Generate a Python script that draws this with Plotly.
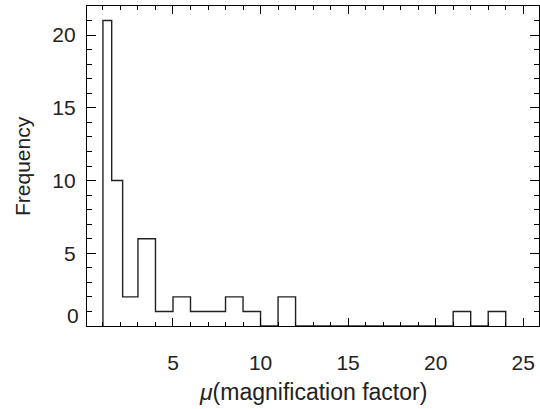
import plotly.graph_objects as go

# Histogram bin edges (x) and counts
bin_edges = [1.0, 1.5, 2.125, 3, 4, 5, 6, 7, 8, 9, 10, 11, 12, 13, 14, 15, 16,
             17, 18, 19, 20, 21, 22, 23, 24]
counts = [21, 10, 2, 6, 1, 2, 1, 1, 2, 1, 0, 2,
          0, 0, 0, 0, 0, 0, 0, 0, 0,
          1, 0, 1]
x_ticks = [5, 10, 15, 20, 25]
y_ticks = [0, 5, 10, 15, 20]
x_title = "<i>μ</i>(magnification factor)"
y_title = "Frequency"

# step outline: start at 0, rise to first count, step through, drop to 0
xs = [bin_edges[0]] + bin_edges
ys = [0] + counts + [0]

FONT = "Liberation Sans, Arial, Helvetica, sans-serif"

fig = go.Figure()
fig.add_trace(go.Scatter(x=xs, y=ys, mode="lines", line_shape="hv",
                         line=dict(color="#222222", width=1.4),
                         showlegend=False, hoverinfo="skip"))

axis_common = dict(showgrid=False, zeroline=False, showline=True,
                   linecolor="black", linewidth=1.2, mirror="ticks",
                   ticks="inside", tickcolor="black", tickwidth=1,
                   tickfont=dict(family=FONT, size=21, color="#222222"))

fig.update_xaxes(range=[0.09, 25.9], tickvals=x_ticks,
                 ticktext=[str(v) for v in x_ticks], ticklen=8,
                 ticklabelstandoff=18,
                 minor=dict(dtick=1, tick0=0, ticklen=4, ticks="inside",
                            tickcolor="black"),
                 **axis_common)
fig.update_yaxes(range=[0, 22], tickvals=y_ticks,
                 ticktext=["" if v == 0 else str(v) for v in y_ticks],
                 ticklen=9, ticklabelstandoff=6,
                 minor=dict(dtick=1, tick0=0, ticklen=5, ticks="inside",
                            tickcolor="black"),
                 **axis_common)

fig.add_annotation(text="0", x=0, xref="paper", xanchor="right", xshift=-6,
                   y=0, yref="y", yanchor="middle", yshift=11, showarrow=False,
                   font=dict(family=FONT, size=21, color="#222222"))
fig.add_annotation(text=x_title, x=0.5, xref="paper", xanchor="center",
                   y=0, yref="paper", yanchor="middle", yshift=-66,
                   showarrow=False,
                   font=dict(family=FONT, size=23, color="#222222"))
fig.add_annotation(text=y_title, x=0, xref="paper", xanchor="center",
                   xshift=-65, y=0.5, yref="paper", yanchor="middle",
                   textangle=-90, showarrow=False,
                   font=dict(family=FONT, size=21, color="#222222"))

fig.update_layout(width=540, height=409,
                  margin=dict(l=87, r=1, t=6, b=83, autoexpand=False),
                  plot_bgcolor="white", paper_bgcolor="white")

fig.write_html("out.html")
